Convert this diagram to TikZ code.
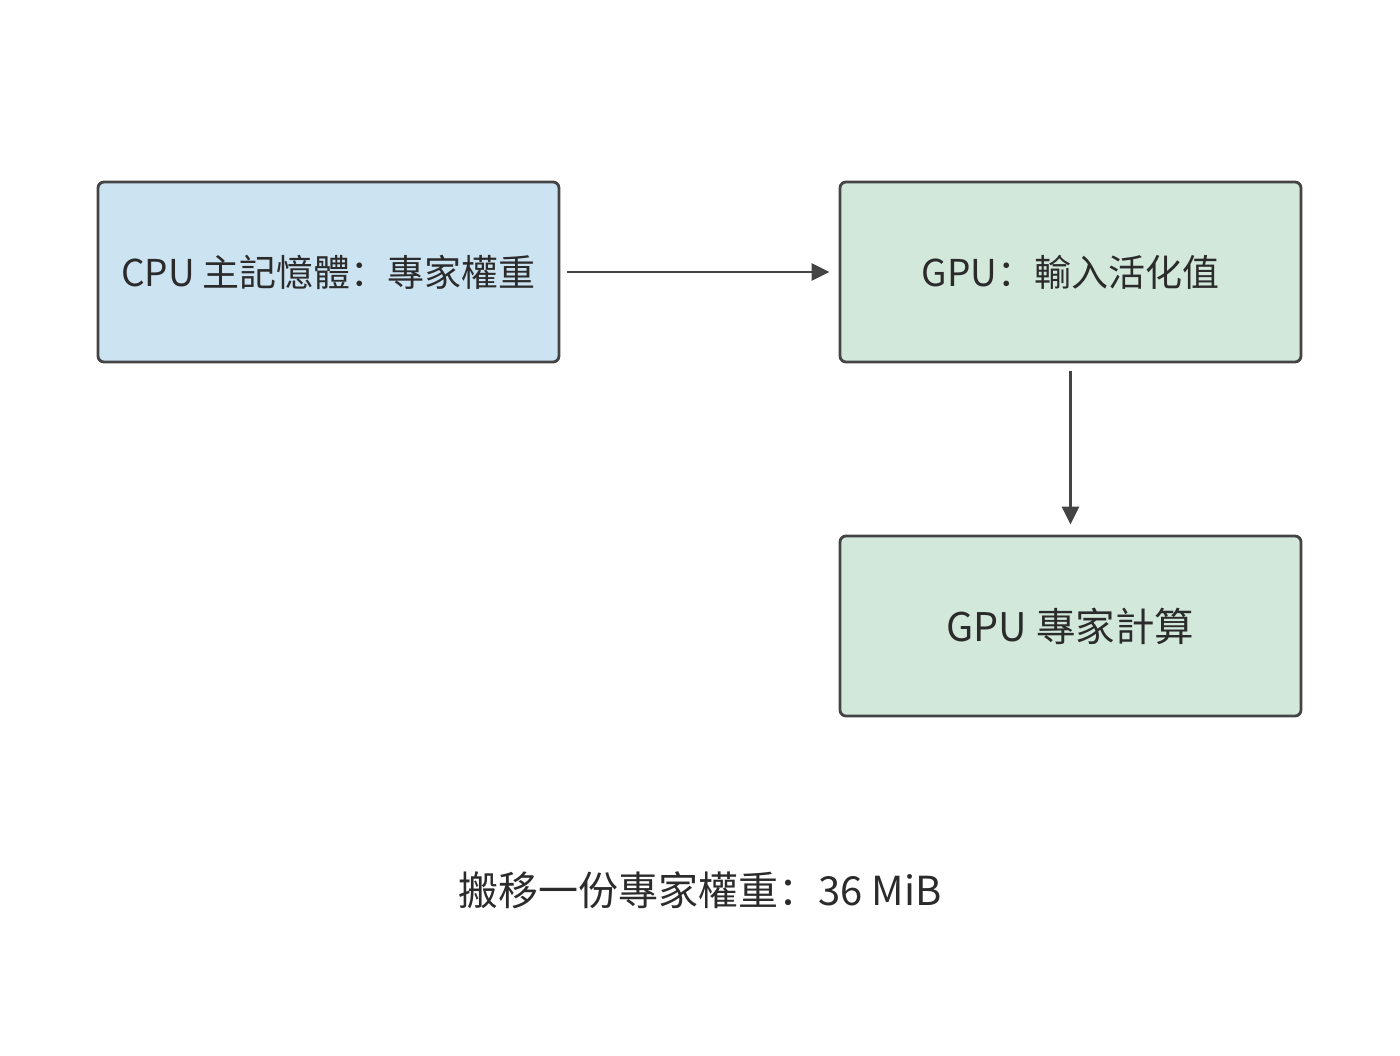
\documentclass[tikz,border=0pt]{standalone}
\usepackage{fontspec}
\setmainfont{Noto Sans CJK SC}
\usetikzlibrary{arrows.meta}
\definecolor{edge}{HTML}{444444}
\definecolor{cpufill}{HTML}{CCE3F2}
\definecolor{gpufill}{HTML}{D2E8DB}
\definecolor{txt}{HTML}{2B2B2B}
\begin{document}
\begin{tikzpicture}[x=1pt,y=-1pt,
  box/.style={draw=edge, line width=2.8pt, rounded corners=6pt, minimum width=461pt, minimum height=180pt, inner sep=0pt, text=txt, font=\fontsize{37}{40}\selectfont},
  conn/.style={draw=edge, line width=2.8pt, -{Triangle[length=18pt,width=17pt]}}]
\useasboundingbox (0,0) rectangle (1400,1056);
\node[box, fill=cpufill] (cpu) at (328.5,272) {CPU 主記憶體：專家權重};
\node[box, fill=gpufill] (gpu) at (1070.5,272) {GPU：輸入活化值};
\node[box, fill=gpufill, font=\fontsize{39.5}{42}\selectfont] (comp) at (1070.5,626) {GPU 專家計算};
\draw[conn] ([xshift=7pt]cpu.east) -- ([xshift=-9pt]gpu.west);
\draw[conn] ([yshift=-8pt]gpu.south) -- ([yshift=10pt]comp.north);
\node[text=txt, font=\fontsize{40}{44}\selectfont] (cap) at (700,890) {搬移一份專家權重：36 MiB};
\end{tikzpicture}
\end{document}
